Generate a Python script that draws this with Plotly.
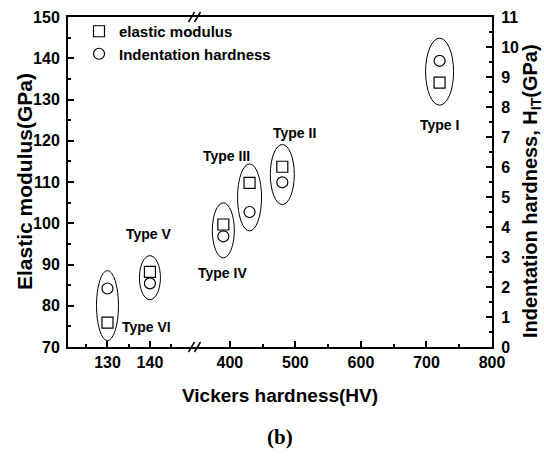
import plotly.graph_objects as go

# ---------------- data ----------------
types = ["Type I", "Type II", "Type III", "Type IV", "Type V", "Type VI"]
vickers_hv = [720, 480, 430, 390, 140, 130]
elastic_modulus_gpa = [134.1, 113.7, 109.8, 99.7, 88.2, 75.9]
indentation_hardness_gpa = [9.54, 5.49, 4.50, 3.69, 2.12, 1.95]

# label placement (data units of the axes) and ellipse sizes (pixels)
label_x = [720, 499, 395, 389, 139.7, 139.3]
label_y = [123.7, 122.0, 116.4, 88.0, 97.5, 74.9]
ell_hw_px = [14, 12, 12, 11, 10.5, 11]
ell_hh_px = [33.5, 30, 33.5, 27.5, 22, 35]

# ---------------- geometry ----------------
W, H = 544, 460
PL, PR, PT, PB = 68, 492, 17, 347
X1_RANGE = [120.7, 150.5]
X2_RANGE = [346.0, 800.0]
BREAK_PX = 194.5
D1 = (BREAK_PX - PL) / (PR - PL)
Y1_RANGE = [70, 150]
Y2_RANGE = [0, 11]

def px_x(px):
    return (px - PL) / (PR - PL)

def px_y(py):
    return (PB - py) / (PB - PT)

FONT = "Liberation Sans, Arial, sans-serif"
BLACK = "black"

seg1 = [i for i, v in enumerate(vickers_hv) if v < 200]
seg2 = [i for i, v in enumerate(vickers_hv) if v >= 200]

fig = go.Figure()
sq = dict(symbol="square-open", size=11, color=BLACK, line=dict(width=1.2, color=BLACK))
ci = dict(symbol="circle-open", size=11, color=BLACK, line=dict(width=1.2, color=BLACK))

fig.add_trace(go.Scatter(x=[vickers_hv[i] for i in seg1], y=[elastic_modulus_gpa[i] for i in seg1],
                         mode="markers", marker=sq, name="elastic modulus", xaxis="x", yaxis="y"))
fig.add_trace(go.Scatter(x=[vickers_hv[i] for i in seg1], y=[indentation_hardness_gpa[i] for i in seg1],
                         mode="markers", marker=ci, name="Indentation hardness", xaxis="x", yaxis="y2"))
fig.add_trace(go.Scatter(x=[vickers_hv[i] for i in seg2], y=[elastic_modulus_gpa[i] for i in seg2],
                         mode="markers", marker=sq, name="elastic modulus", showlegend=False,
                         xaxis="x2", yaxis="y"))
fig.add_trace(go.Scatter(x=[vickers_hv[i] for i in seg2], y=[indentation_hardness_gpa[i] for i in seg2],
                         mode="markers", marker=ci, name="Indentation hardness", showlegend=False,
                         xaxis="x2", yaxis="y2"))

shapes = []
annotations = []
y_px_per_unit = (PB - PT) / (Y1_RANGE[1] - Y1_RANGE[0])
for i, t in enumerate(types):
    xr = "x" if i in seg1 else "x2"
    rng = X1_RANGE if i in seg1 else X2_RANGE
    dom_px = (BREAK_PX - PL) if i in seg1 else (PR - BREAK_PX)
    x_px_per_unit = dom_px / (rng[1] - rng[0])
    # hardness expressed on elastic-modulus axis scale
    h_on_y = Y1_RANGE[0] + indentation_hardness_gpa[i] * (Y1_RANGE[1] - Y1_RANGE[0]) / (Y2_RANGE[1] - Y2_RANGE[0])
    cy = (elastic_modulus_gpa[i] + h_on_y) / 2
    hw = ell_hw_px[i] / x_px_per_unit
    hh = ell_hh_px[i] / y_px_per_unit
    cx = vickers_hv[i]
    shapes.append(dict(type="circle", xref=xr, yref="y", x0=cx - hw, x1=cx + hw,
                       y0=cy - hh, y1=cy + hh, line=dict(color=BLACK, width=1)))
    annotations.append(dict(x=label_x[i], y=label_y[i], xref=xr, yref="y", text=t, showarrow=False,
                            font=dict(family=FONT, size=14, color=BLACK, weight="bold")))

# axis break marks
for yp in (PT, PB):
    for dx in (-3, 3):
        shapes.append(dict(type="line", xref="paper", yref="paper",
                           x0=px_x(BREAK_PX + dx - 3), y0=px_y(yp + 5),
                           x1=px_x(BREAK_PX + dx + 3), y1=px_y(yp - 5),
                           line=dict(color=BLACK, width=1.5)))

annotations.append(dict(x=0.5, y=px_y(395), xref="paper", yref="paper", text="Vickers hardness(HV)",
                        xanchor="center", yanchor="middle",
                        showarrow=False, font=dict(family=FONT, size=19, color=BLACK, weight="bold")))
annotations.append(dict(x=px_x(24), y=px_y(182), xref="paper", yref="paper", textangle=-90,
                        xanchor="center", yanchor="middle", text="Elastic modulus(GPa)",
                        showarrow=False, font=dict(family=FONT, size=21, color=BLACK, weight="bold")))
annotations.append(dict(x=px_x(531), y=px_y(191), xref="paper", yref="paper", textangle=-90,
                        xanchor="center", yanchor="middle",
                        text="Indentation hardness, H<sub>IT</sub>(GPa)", showarrow=False,
                        font=dict(family=FONT, size=20, color=BLACK, weight="bold")))
annotations.append(dict(x=0.5, y=px_y(437), xref="paper", yref="paper", text="(b)", showarrow=False,
                        xanchor="center", yanchor="middle",
                        font=dict(family="Liberation Serif, Times New Roman, serif", size=21,
                                  color=BLACK, weight="bold")))

tickfont = dict(family=FONT, size=16, color=BLACK, weight="bold")
common = dict(showgrid=False, zeroline=False, showline=True, linecolor=BLACK, linewidth=2,
              ticks="inside", ticklen=6, tickwidth=1.5, tickcolor=BLACK, tickfont=tickfont,
              automargin=False)

fig.update_layout(
    width=W, height=H,
    margin=dict(l=PL, r=W - PR, t=PT, b=H - PB, autoexpand=False),
    paper_bgcolor="white", plot_bgcolor="white",
    shapes=shapes, annotations=annotations,
    showlegend=True,
    legend=dict(x=px_x(79), y=px_y(15), xanchor="left", yanchor="top",
                font=dict(family=FONT, size=15, color=BLACK, weight="bold"),
                bgcolor="rgba(0,0,0,0)"),
    xaxis=dict(domain=[0, D1], range=X1_RANGE, tickvals=[130, 140], anchor="y", mirror=True,
               minor=dict(tickvals=[125, 135, 145], ticks="inside", ticklen=3, tickcolor=BLACK),
               **common),
    xaxis2=dict(domain=[D1, 1], range=X2_RANGE, tickvals=[400, 500, 600, 700, 800], anchor="y",
                mirror=True,
                minor=dict(tickvals=[450, 550, 650, 750], ticks="inside", ticklen=3, tickcolor=BLACK),
                **common),
    yaxis=dict(range=Y1_RANGE, tick0=70, dtick=10, anchor="x", ticklabelstandoff=3,
               minor=dict(dtick=5, ticks="inside", ticklen=3, tickcolor=BLACK),
               **common),
    yaxis2=dict(range=Y2_RANGE, tick0=0, dtick=1, anchor="x2", overlaying="y", side="right",
                ticklabelstandoff=4,
                minor=dict(dtick=0.5, ticks="inside", ticklen=3, tickcolor=BLACK),
                **common),
)

fig.write_html("out.html", config={"displayModeBar": False},
               post_script="document.body.style.margin='0px';")
